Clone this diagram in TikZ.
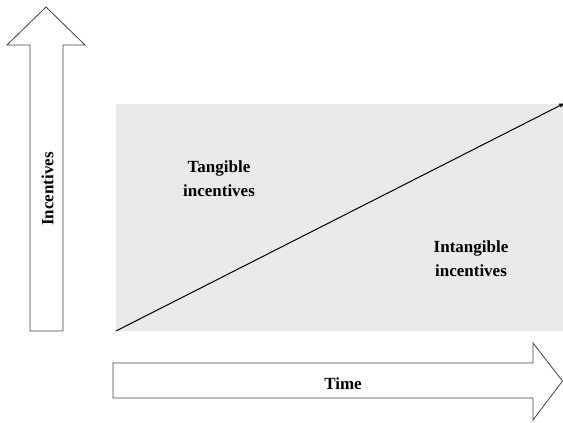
\documentclass[tikz,border=0pt]{standalone}
\usepackage{fontspec}
\setmainfont{Liberation Serif}
\definecolor{shade}{gray}{0.918}
\definecolor{rim}{gray}{0.25}
\def\s{0.03515}
\def\punkt#1#2{({(#1)*\s},{(422-(#2))*\s})}

\begin{document}
\begin{tikzpicture}[>=latex,font=\bfseries\fontsize{17}{24}\selectfont]
\useasboundingbox \punkt{0}{0} rectangle \punkt{563}{422};
% shaded field
\fill[color=shade] \punkt{116}{104} rectangle \punkt{563}{331};
% incentives arrow
\draw[color=rim,line width=0.8pt] \punkt{30}{331} -- \punkt{30}{45} -- \punkt{7}{45} -- \punkt{46}{7}
  -- \punkt{85}{45} -- \punkt{63}{45} -- \punkt{63}{331} -- cycle;
\node[rotate=90] (incent) at \punkt{47.5}{189} {Incentives};
% time arrow
\draw[color=rim,line width=0.8pt] \punkt{113}{363} -- \punkt{533}{363} -- \punkt{533}{343} -- \punkt{562.5}{381}
  -- \punkt{533}{420} -- \punkt{533}{398} -- \punkt{113}{398} -- cycle;
\node (time) at \punkt{343}{384} {Time};
% diagonal
\path \punkt{116}{331} coordinate (lo) \punkt{565}{103} coordinate (hi);
\draw[->,line width=1pt] (lo) -- (hi);
\node[align=center] (tang) at \punkt{219}{178.5} {Tangible\\incentives};
\node[align=center] (intang) at \punkt{471}{259} {Intangible\\incentives};
\end{tikzpicture}
\end{document}
